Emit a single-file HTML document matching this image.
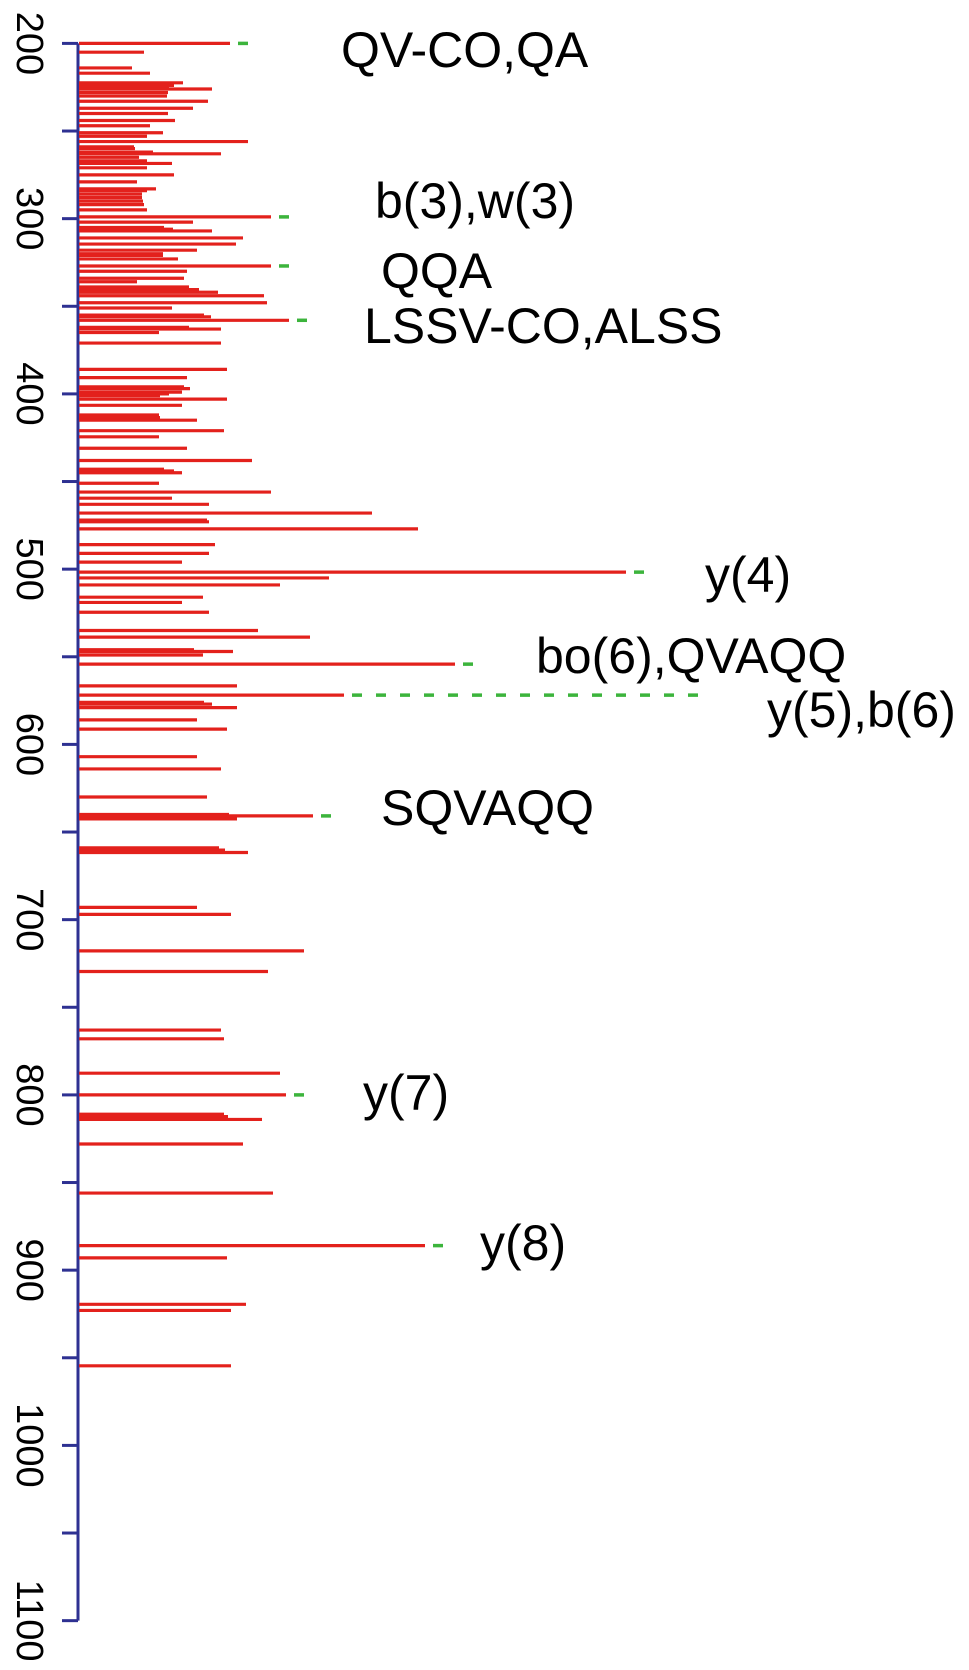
<!DOCTYPE html>
<html><head><meta charset="utf-8">
<style>
html,body{margin:0;padding:0;background:#fff;}
svg{display:block;}
text{font-family:"Liberation Sans",Arial,sans-serif;fill:#000;}
</style></head>
<body>
<svg id="chart" width="969" height="1670" viewBox="0 0 969 1670" xmlns="http://www.w3.org/2000/svg">
<g id="axis"></g>
<g id="bars"></g>
<g id="annos"></g>
</svg>
<script>
const mzValues = [200,205,214,217,222.5,224,225,226,228,230,233,237,240,244,247,251,253,256,259,260,262,263,265,267,268.5,271,275,279,283,284,286,288,290,292,295,299,302,305,306,307,311,314.5,318,320,321,323,327,330,334,336,339,340.5,342,344,348,351,355,356,358,362,363,365,371,386,390.7,396,397,399,400,401,403,406.5,412,413.5,415,421,424.5,431,438,443,444,445,451,456,459.5,463,468,472,473,477,486,491,496,501.7,505,509,516,519,524.6,535,538.8,546,547,549,554.2,566.6,571.9,576,577,579,586,591.3,607,614,630,640,640.8,642.5,659,660.3,661.7,693,697,717.8,729.6,763,768,787.6,800,811,812.4,814,828,856,886,893,919.5,923,954.6];
const intensities = [151,65,53,71,104,95,90,133,89,88,129,114,89,96,71,84,68,169,55,56,74,142,60,68,93,68,95,58,77,68,63,63,64,65,68,192,114,85,94,133,164,157,118,84,84,99,192,108,105,58,110,120,139,185,188,93,125,132,210,110,142,80,142,148,108,105,111,103,90,81,148,103,80,81,118,145,80,108,173,85,95,103,80,192,93,130,293,128,130,339,136,130,103,547,250,201,124,103,130,179,231,115,154,124,376,158,265,125,133,158,118,148,118,142,128,150,234,158,140,146,169,118,152,225,189,142,145,201,207,145,149,183,164,194,346,148,167,152,152];
const tickValues = [200,300,400,500,600,700,800,900,1000,1100];
const tickLabels = ["200","300","400","500","600","700","800","900","1000","1100"];
const annoMz = [200,299,327,358,501.7,554.2,571.9,640.8,800,886];
const annoText = ["QV-CO,QA","b(3),w(3)","QQA","LSSV-CO,ALSS","y(4)","bo(6),QVAQQ","y(5),b(6)","SQVAQQ","y(7)","y(8)"];

const NS="http://www.w3.org/2000/svg";
const axisX=78, barX0=79;
function yScale(mz){return 43.4+(mz-200)*1.7525;}
function xScale(v){return barX0+v;}
function mk(tag,attrs,parent){const e=document.createElementNS(NS,tag);for(const k in attrs)e.setAttribute(k,attrs[k]);parent.appendChild(e);return e;}

const axisG=document.getElementById('axis');
const al=mk('line',{x1:axisX,x2:axisX,y1:yScale(200),y2:yScale(1100),stroke:'#2e3192','stroke-width':3},axisG);


for(let v=200;v<=1100;v+=50){
  const t=mk('line',{x1:62,x2:axisX,y1:yScale(v),y2:yScale(v),stroke:'#2e3192','stroke-width':3},axisG);
  
  
}
tickValues.forEach((v,i)=>{
  const y=yScale(v);
  const t=mk('text',{x:0,y:0,'font-size':38,'text-anchor':'middle',transform:`translate(17,${y}) rotate(90)`},axisG);
  t.textContent=tickLabels[i];
  
  
});

const barsG=document.getElementById('bars');
mzValues.forEach((mz,i)=>{
  const y=yScale(mz);
  const b=mk('line',{x1:barX0,x2:xScale(intensities[i]),y1:y,y2:y,stroke:'#e3211c','stroke-width':3.2},barsG);
  
  
});

const annoLayout=[
 {tx:341,ty:67},{tx:375,ty:218},{tx:381,ty:288},{tx:364,ty:343},
 {tx:705,ty:592},{tx:536,ty:673},{tx:767,ty:727,dashTo:709},{tx:381,ty:825},
 {tx:363,ty:1110},{tx:480,ty:1260}
];
const annG=document.getElementById('annos');
annoMz.forEach((mz,i)=>{
  const idx=mzValues.indexOf(mz);
  const end=xScale(intensities[idx]);
  const y=yScale(mz);
  const L=annoLayout[i];
  const dEnd=L.dashTo?L.dashTo:end+20;
  const d=mk('line',{x1:end+8,x2:dEnd,y1:y,y2:y,stroke:'#3cb43c','stroke-width':3.5,'stroke-dasharray':L.dashTo?'10 14':'10 40'},annG);
  
  
  const t=mk('text',{x:L.tx,y:L.ty,'font-size':50},annG);
  t.textContent=annoText[i];
  
  
});
</script>
</body></html>
